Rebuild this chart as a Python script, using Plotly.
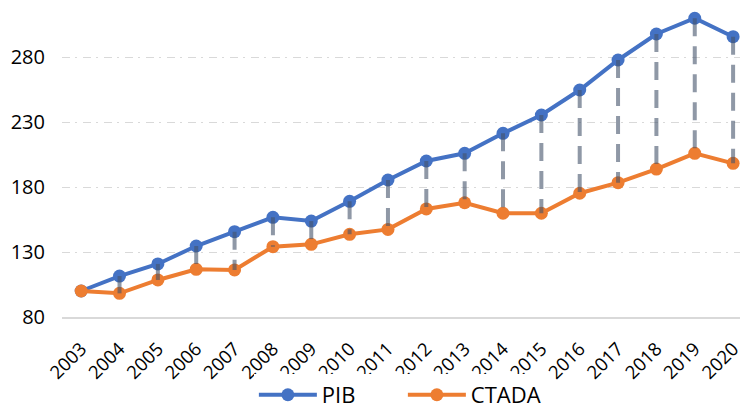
import plotly.graph_objects as go

years = [str(y) for y in range(2003, 2021)]
pib = [100, 111.5, 120.8, 134.6, 145.6, 156.7, 153.8, 169.0, 185.4, 200.0,
       205.9, 221.3, 235.4, 254.6, 277.7, 297.7, 309.8, 295.6]
ctada = [100, 98.2, 108.5, 116.7, 116.2, 134.1, 135.9, 143.6, 147.4, 163.1,
         167.9, 159.8, 159.8, 175.2, 183.3, 193.8, 205.9, 198.2]
y_ticks = [80, 130, 180, 230, 280]

BLUE = "#4472C4"
ORANGE = "#ED7D31"
FONT = "Open Sans"

# high-low connector segments built from the data arrays
seg_x, seg_y = [], []
for yr, hi, lo in zip(years, pib, ctada):
    seg_x += [yr, yr, None]
    seg_y += [hi, lo, None]

fig = go.Figure()
fig.add_trace(go.Scatter(
    x=years, y=pib, name="PIB", mode="lines+markers",
    line=dict(color=BLUE, width=4),
    marker=dict(color=BLUE, size=13),
    cliponaxis=False,
))
fig.add_trace(go.Scatter(
    x=years, y=ctada, name="CTADA", mode="lines+markers",
    line=dict(color=ORANGE, width=4),
    marker=dict(color=ORANGE, size=13),
    cliponaxis=False,
))
fig.add_trace(go.Scatter(
    x=seg_x, y=seg_y, mode="lines", showlegend=False, hoverinfo="skip",
    line=dict(color="rgba(68,84,106,0.6)", width=4, dash="18px,10px"),
    connectgaps=False,
))

fig.update_layout(
    width=740, height=408, autosize=False,
    margin=dict(l=62, r=0, t=5, b=91),
    paper_bgcolor="white", plot_bgcolor="white",
    font=dict(family=FONT, color="#000000"),
    showlegend=True,
    legend=dict(
        orientation="h", x=0.283, xanchor="left",
        yref="container", y=0.032, yanchor="middle",
        font=dict(size=22, family=FONT, color="#000000"),
        itemwidth=58,
        entrywidth=76, entrywidthmode="pixels",
    ),
    xaxis=dict(
        type="category", range=[-0.5, 17.18], automargin=False,
        showgrid=False, showline=True, linecolor="#D9D9D9", linewidth=1.5,
        tickangle=-45, tickfont=dict(size=18.5, family=FONT),
        ticks="", ticklabelstandoff=12, zeroline=False,
    ),
    yaxis=dict(
        range=[80, 320], tickvals=y_ticks, automargin=False,
        showgrid=True, gridcolor="#D9D9D9", gridwidth=1.3,
        griddash="8px,5px,2px,6px",
        showline=False, zeroline=False,
        tickfont=dict(size=20, family=FONT),
        ticks="", ticklabelstandoff=16,
    ),
)

fig.write_html(
    "out.html",
    config={"displayModeBar": False, "responsive": False},
    post_script="document.body.style.margin='0';document.body.style.overflow='hidden';",
)
